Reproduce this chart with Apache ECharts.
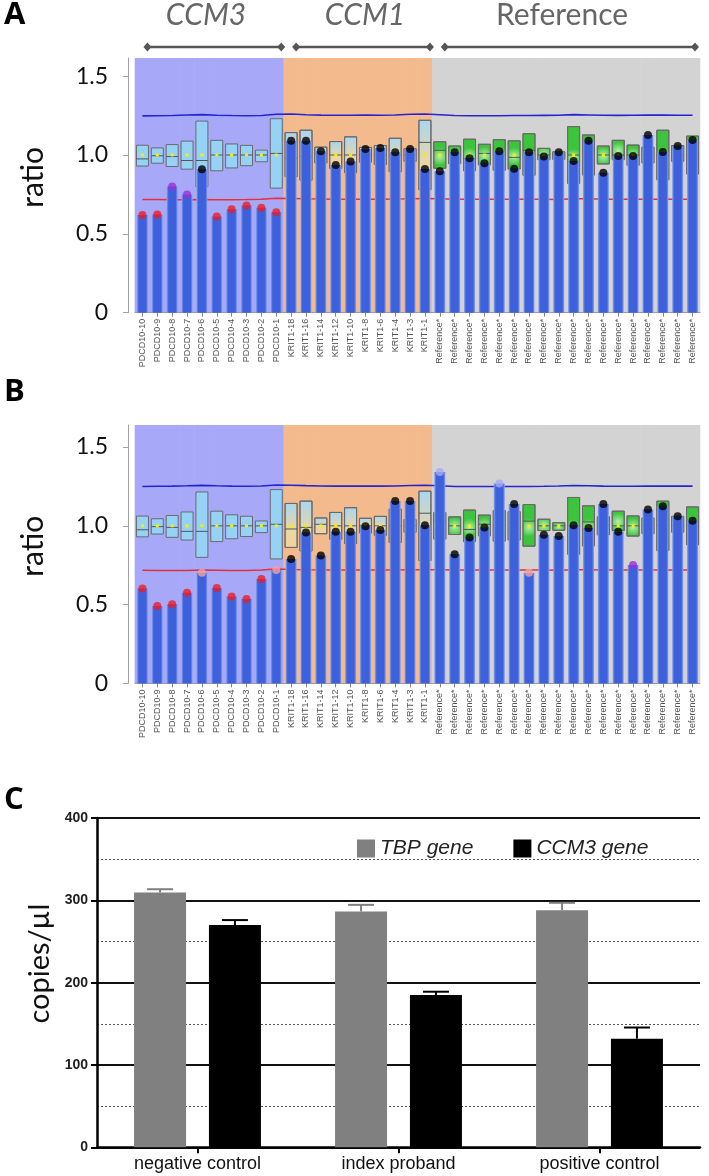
<!DOCTYPE html>
<html><head><meta charset="utf-8">
<script src="https://cdn.jsdelivr.net/npm/echarts@6.0.0/dist/echarts.min.js"></script>
<style>html,body{margin:0;padding:0;background:#fff}#c{width:709px;height:1176px}</style>
</head><body><div id="c"></div>
<script>
// ---------- DATA ----------
const probes = ['PDCD10-10','PDCD10-9','PDCD10-8','PDCD10-7','PDCD10-6','PDCD10-5','PDCD10-4','PDCD10-3','PDCD10-2','PDCD10-1',
  'KRIT1-18','KRIT1-16','KRIT1-14','KRIT1-12','KRIT1-10','KRIT1-8','KRIT1-6','KRIT1-4','KRIT1-3','KRIT1-1',
  'Reference*','Reference*','Reference*','Reference*','Reference*','Reference*','Reference*','Reference*','Reference*',
  'Reference*','Reference*','Reference*','Reference*','Reference*','Reference*','Reference*','Reference*','Reference*'];
const groupNames = ['CCM3','CCM1','Reference'];
const groups = [0,0,0,0,0,0,0,0,0,0, 1,1,1,1,1,1,1,1,1,1, 2,2,2,2,2,2,2,2,2,2,2,2,2,2,2,2,2,2];
const ratioTicks = [0, 0.5, 1.0, 1.5];

const ratioA = [0.62,0.623,0.80,0.75,0.91,0.61,0.656,0.68,0.666,0.637,
  1.09,1.09,1.023,0.937,0.958,1.038,1.044,1.017,1.038,0.911,
  0.897,1.017,0.979,0.947,1.023,0.913,1.017,0.99,1.017,0.962,1.09,0.888,0.994,0.994,1.127,1.019,1.057,1.095];
const statusA = ['del','del','border','border','norm','del','del','del','del','del',
  'norm','norm','norm','norm','norm','norm','norm','norm','norm','norm',
  'norm','norm','norm','norm','norm','norm','norm','norm','norm','norm','norm','norm','norm','norm','norm','norm','norm','norm'];

const ratioB = [0.603,0.491,0.503,0.575,0.702,0.605,0.552,0.535,0.662,0.719,
  0.789,0.958,0.812,0.962,0.962,0.998,0.973,1.157,1.157,1.004,
  1.342,0.819,0.926,0.99,1.269,1.138,0.702,0.943,0.935,1.004,0.987,1.138,0.962,0.751,1.104,1.125,1.061,1.032];
const statusB = ['del','del','del','del','lowpale','del','del','del','del','lowpale',
  'norm','norm','norm','norm','norm','norm','norm','norm','norm','norm',
  'highpale','norm','norm','norm','highpale','norm','lowpale','norm','norm','norm','norm','norm','norm','border','norm','norm','norm','norm'];

// reference ranges (same in A and B)
const boxLow  = [0.93,0.948,0.927,0.91,0.80,0.90,0.918,0.932,0.957,0.79,
  0.863,0.84,0.95,0.915,0.888,0.955,0.94,0.894,0.96,0.78,
  0.916,0.945,0.90,0.937,0.903,0.91,0.871,0.97,0.972,0.82,0.873,0.943,0.97,0.935,0.95,0.843,0.96,0.88];
const boxHigh = [1.062,1.045,1.066,1.088,1.215,1.093,1.07,1.061,1.031,1.23,
  1.142,1.157,1.05,1.085,1.115,1.048,1.06,1.106,1.04,1.22,
  1.084,1.057,1.10,1.068,1.097,1.09,1.135,1.042,1.02,1.18,1.127,1.057,1.093,1.063,1.05,1.157,1.06,1.12];
const boxMed  = [0.975,0.995,0.99,0.965,0.965,1.0,1.0,1.0,1.0,1.01,
  0.98,0.99,1.01,1.0,1.0,1.0,1.0,1.0,1.0,1.08,
  1.03,1.0,0.977,1.01,1.0,0.985,1.03,1.0,1.0,1.0,1.025,1.0,1.0,1.0,1.0,1.0,1.0,1.0];

const upperA = [1.248,1.249,1.250,1.254,1.256,1.252,1.250,1.249,1.250,1.258,1.260,1.255,1.253,1.252,1.252,1.253,1.252,1.254,1.258,1.260,
  1.255,1.250,1.249,1.249,1.249,1.250,1.250,1.251,1.252,1.256,1.254,1.252,1.251,1.252,1.253,1.254,1.252,1.252];
const lowerA = [0.718,0.717,0.716,0.716,0.717,0.716,0.716,0.717,0.720,0.726,0.724,0.722,0.721,0.720,0.720,0.720,0.720,0.721,0.722,0.724,
  0.722,0.720,0.719,0.720,0.719,0.719,0.719,0.719,0.718,0.722,0.723,0.720,0.719,0.719,0.720,0.720,0.719,0.719];
const upperB = [1.250,1.251,1.252,1.254,1.257,1.254,1.252,1.251,1.253,1.259,1.258,1.255,1.253,1.252,1.252,1.253,1.252,1.253,1.256,1.258,
  1.254,1.250,1.250,1.250,1.250,1.250,1.250,1.251,1.253,1.256,1.254,1.252,1.251,1.251,1.252,1.253,1.252,1.252];
const lowerB = [0.718,0.717,0.717,0.716,0.720,0.718,0.716,0.717,0.719,0.726,0.723,0.721,0.720,0.720,0.720,0.720,0.720,0.720,0.721,0.722,
  0.721,0.720,0.719,0.720,0.719,0.719,0.720,0.719,0.718,0.721,0.722,0.720,0.719,0.719,0.720,0.720,0.719,0.719];

const cCategories = ['negative control','index proband','positive control'];
const cSeriesNames = ['TBP gene','CCM3 gene'];
const tbp = [309.5, 286.5, 288];
const tbpErr = [4, 8, 9];
const ccm3 = [270, 185, 132];
const ccm3Err = [6, 4, 13.5];
const copiesTicks = [0, 100, 200, 300, 400];

// ---------- STYLES ----------
const bgColors = ['#a7a9f8','#f3ba8d','#d3d3d3'];
const dotColors = {del:'#ee1c25', border:'#9b30d8', norm:'#000000', lowpale:'#f5a0a0', highpale:'#a9a9f5'};
const BAR_W = 11;
const RMAX_A = 1.615, RMAX_B = 1.64;

function bgItem(params, api) {
  const i = api.value(0), g = api.value(1);
  const c = api.coord([i, 0]);
  const bw = api.size([1, 0])[0];
  const cs = params.coordSys;
  return {type:'rect', shape:{x:c[0]-bw/2-0.3, y:cs.y, width:bw+0.6, height:cs.height},
    style:{fill:bgColors[g]}};
}
function boxFill(g) {
  if (g === 0) return '#95d2f6';
  if (g === 1) return new echarts.graphic.LinearGradient(0,0,0,1,[{offset:0,color:'#a9d6f0'},{offset:0.6,color:'#e9d6a8'},{offset:1,color:'#f3d39a'}]);
  return new echarts.graphic.RadialGradient(0.5,0.55,0.7,[{offset:0,color:'#b6f0ae'},{offset:1,color:'#3cc43c'}]);
}
function boxItem(params, api) {
  const i = api.value(0), lo = api.value(1), hi = api.value(2), med = api.value(3), g = api.value(4);
  const pHi = api.coord([i, hi]), pLo = api.coord([i, lo]), pMed = api.coord([i, med]), pS = api.coord([i, 1]);
  const w = BAR_W + 1, x0 = pHi[0] - w/2;
  return {type:'group', children:[
    {type:'rect', shape:{x:x0, y:pHi[1], width:w, height:pLo[1]-pHi[1]}, style:{fill:boxFill(g), stroke:'#6a6a6a', lineWidth:1}},
    {type:'line', shape:{x1:x0, y1:pMed[1], x2:x0+w, y2:pMed[1]}, style:{stroke:'#555', lineWidth:1}},
    {type:'rect', shape:{x:pS[0]-1.5, y:pS[1]-1.5, width:3, height:3}, style:{fill:'#f6f000'}}
  ]};
}
const barStyle = {color: new echarts.graphic.LinearGradient(0,0,1,0,[
  {offset:0,color:'#8ea3ee'},{offset:0.18,color:'#3d60dc'},{offset:0.82,color:'#3d60dc'},{offset:1,color:'#8ea3ee'}])};

function ratioSeries(k, ratio, status, upper, lower) {
  return [
    {type:'custom', xAxisIndex:k, yAxisIndex:k, renderItem:bgItem, z:0, silent:true,
      data: groups.map((g,i)=>[i,g])},
    {type:'line', xAxisIndex:k, yAxisIndex:k, data:lower, symbol:'none', z:1, lineStyle:{color:'#e3303a', width:1.5}},
    {type:'line', xAxisIndex:k, yAxisIndex:k, data:upper, symbol:'none', z:1, lineStyle:{color:'#2525cf', width:1.6}},
    {type:'custom', xAxisIndex:k, yAxisIndex:k, renderItem:boxItem, z:2,
      data: probes.map((p,i)=>[i, boxLow[i], boxHigh[i], boxMed[i], groups[i]])},
    {type:'bar', xAxisIndex:k, yAxisIndex:k, data:ratio, barWidth:BAR_W, z:3, itemStyle:barStyle},
    {type:'scatter', xAxisIndex:k, yAxisIndex:k, z:4, symbolSize:8,
      data: ratio.map((v,i)=>({value:[i,v], itemStyle:{color:dotColors[status[i]]}}))}
  ];
}

function ratioX(k) {
  return {type:'category', gridIndex:k, data:probes, boundaryGap:true,
    axisLine:{show:true, lineStyle:{color:'#9a9a9a', width:1}},
    axisTick:{show:true, alignWithLabel:true, interval:0, length:4, lineStyle:{color:'#888'}},
    axisLabel:{interval:0, rotate:90, fontSize:9, color:'#555', margin:6, fontFamily:'Liberation Sans'}};
}
function ratioY(k, max) {
  return {type:'value', gridIndex:k, min:0, max:max, interval:0.5, offset:7,
    name:'ratio', nameLocation:'middle', nameGap:80, nameRotate:90,
    nameTextStyle:{fontSize:30, color:'#111', fontFamily:'Lato', padding:[0,0,0,16]},
    axisLine:{show:true, lineStyle:{color:'#a0a0a0', width:1}},
    axisTick:{show:true, length:5, lineStyle:{color:'#a0a0a0'}},
    splitLine:{show:false},
    axisLabel:{fontSize:23, color:'#111', fontFamily:'Lato', margin:20, showMaxLabel:false,
      formatter: v => ratioTicks.includes(v) ? (v === 0 ? '0' : v.toFixed(1)) : ''}};
}

const errOff = (52 + 52*0.44) / 2;
function errItem(sign, color) {
  return function(params, api) {
    const i = api.value(0), v = api.value(1), e = api.value(2);
    const p0 = api.coord([i, v]), p1 = api.coord([i, v + e]);
    const x = p0[0] + sign*errOff, cw = 13;
    return {type:'group', children:[
      {type:'line', shape:{x1:x, y1:p0[1], x2:x, y2:p1[1]}, style:{stroke:color, lineWidth:2}},
      {type:'line', shape:{x1:x-cw, y1:p1[1], x2:x+cw, y2:p1[1]}, style:{stroke:color, lineWidth:2}}
    ]};
  };
}

const chart = echarts.init(document.getElementById('c'), null, {renderer:'canvas'});
const option = {
  animation:false,
  backgroundColor:'#fff',
  grid:[
    {left:135, right:9, top:58, bottom:1176-312.7, containLabel:false, outerBoundsMode:'none'},
    {left:135, right:9, top:425, bottom:1176-683.4, containLabel:false, outerBoundsMode:'none'},
    {left:97, right:9, top:818, bottom:1176-1147.3, containLabel:false, outerBoundsMode:'none'}
  ],
  xAxis:[ratioX(0), ratioX(1),
    {type:'category', gridIndex:2, data:cCategories,
      axisLine:{show:true, lineStyle:{color:'#000', width:2.5}},
      axisTick:{show:true, alignWithLabel:true, length:6, lineStyle:{color:'#000', width:2}},
      axisLabel:{fontSize:18, color:'#111', margin:8, fontFamily:'Liberation Sans'}}],
  yAxis:[ratioY(0, RMAX_A), ratioY(1, RMAX_B),
    {type:'value', gridIndex:2, min:0, max:400, interval:100,
      name:'copies/\u00b5l', nameLocation:'middle', nameGap:34, nameRotate:90,
      nameTextStyle:{fontSize:29, color:'#111', fontFamily:'Lato', padding:[0,0,0,38]},
      axisLine:{show:true, lineStyle:{color:'#000', width:2.5}},
      axisTick:{show:true, length:6, lineStyle:{color:'#000', width:2}},
      axisLabel:{fontSize:14, fontWeight:'bold', color:'#222', margin:9, fontFamily:'Liberation Sans',
        formatter: v => copiesTicks.includes(v) ? String(v) : ''},
      splitLine:{show:true, lineStyle:{color:'#111', width:2}},
      minorTick:{show:false, splitNumber:2},
      minorSplitLine:{show:true, lineStyle:{color:'#555', width:1, type:[2,2]}}}],
  legend:{data:cSeriesNames, left:352, top:833, icon:'rect', itemWidth:18, itemHeight:18, itemGap:40,
    textStyle:{fontSize:21, fontStyle:'italic', color:'#222', fontFamily:'Liberation Sans'}},
  series:[
    ...ratioSeries(0, ratioA, statusA, upperA, lowerA),
    ...ratioSeries(1, ratioB, statusB, upperB, lowerB),
    {name:cSeriesNames[0], type:'bar', xAxisIndex:2, yAxisIndex:2, data:tbp, barWidth:52, barGap:'44%', itemStyle:{color:'#808080'}, z:3},
    {name:cSeriesNames[1], type:'bar', xAxisIndex:2, yAxisIndex:2, data:ccm3, barWidth:52, barGap:'44%', itemStyle:{color:'#000'}, z:3},
    {type:'custom', xAxisIndex:2, yAxisIndex:2, renderItem:errItem(-1,'#808080'), z:4, data:tbp.map((v,i)=>[i,v,tbpErr[i]])},
    {type:'custom', xAxisIndex:2, yAxisIndex:2, renderItem:errItem(1,'#000'), z:4, data:ccm3.map((v,i)=>[i,v,ccm3Err[i]])}
  ]
};
chart.setOption(option);

// ---------- annotations (panel letters, gene headers with arrows) ----------
const px = i => chart.convertToPixel({xAxisIndex:0}, i);
const graphics = [];
const letter = (t, y) => ({type:'text', left:4, top:y, style:{text:t, font:'bold 31px "Open Sans"', fill:'#000'}});
graphics.push(letter('A', 0), letter('B', 377), letter('C', 785));
const hdrY = 47;
const diamond = (x, y) => ({type:'polygon', shape:{points:[[x-4,y],[x,y-4.5],[x+4,y],[x,y+4.5]]}, style:{fill:'#555'}});
const textCenters = [206, 365, 562];
[0,1,2].forEach(g => {
  const idx = groups.map((v,i)=>v===g?i:-1).filter(i=>i>=0);
  const x1 = px(idx[0]) + 5, x2 = Math.min(px(idx[idx.length-1]) + 5, 695);
  graphics.push({type:'line', shape:{x1, y1:hdrY, x2, y2:hdrY}, style:{stroke:'#555', lineWidth:2.5}});
  graphics.push(diamond(x1, hdrY), diamond(x2, hdrY));
  graphics.push({type:'text', x:textCenters[g], y:15, style:{text:groupNames[g],
    font:(g<2?'italic ':'') + '30px Lato', fill:'#666', textAlign:'center', textVerticalAlign:'middle'}});
});
chart.setOption({graphic:graphics});
</script></body></html>
